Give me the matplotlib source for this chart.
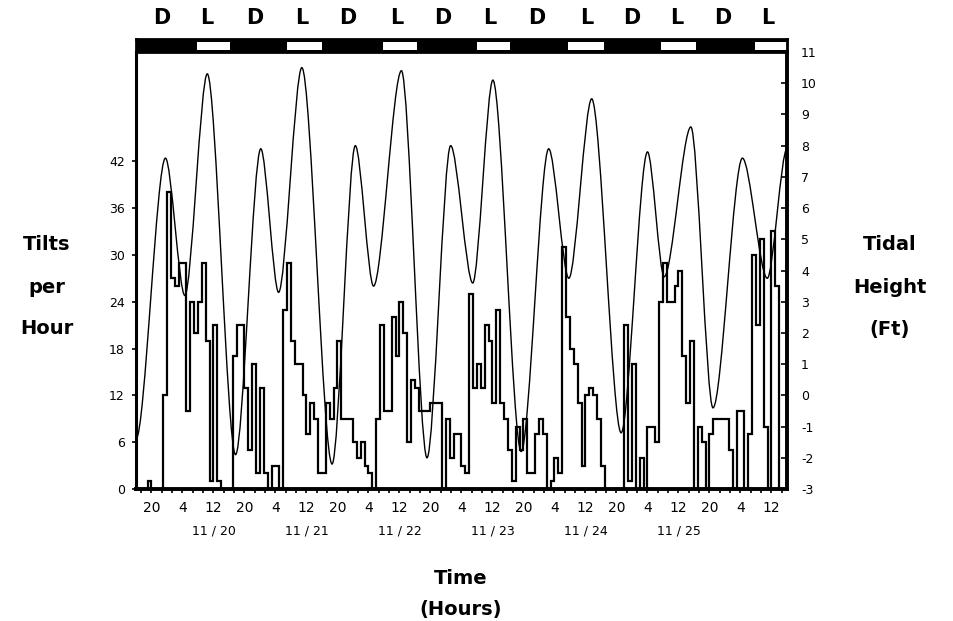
import numpy as np
import matplotlib
matplotlib.use("Agg")
import matplotlib.pyplot as plt
from matplotlib.path import Path
from matplotlib.patches import PathPatch, Rectangle
from matplotlib.ticker import FixedLocator

# hours are counted from 00:00 on 11/19; first bin starts at 16:00
first_hour = 16

# tilts per hour, one value per hour (24 per line)
tilts = [
    0, 0, 0, 1, 0, 0, 0, 12, 38, 27, 26, 29, 29, 10, 24, 20, 24, 29, 19, 1, 21, 1, 0, 0,
    0, 17, 21, 21, 13, 5, 16, 2, 13, 2, 0, 3, 3, 0, 23, 29, 19, 16, 16, 12, 7, 11, 9, 2,
    2, 11, 9, 13, 19, 9, 9, 9, 6, 4, 6, 3, 2, 0, 9, 21, 10, 10, 22, 17, 24, 20, 6, 14,
    13, 10, 10, 10, 11, 11, 11, 0, 9, 4, 7, 7, 3, 2, 25, 13, 16, 13, 21, 19, 11, 23, 11, 9,
    5, 1, 8, 5, 9, 2, 2, 7, 9, 7, 0, 1, 4, 2, 31, 22, 18, 16, 11, 3, 12, 13, 12, 9,
    3, 0, 0, 0, 0, 0, 21, 1, 16, 0, 4, 0, 8, 8, 6, 24, 29, 24, 24, 26, 28, 17, 11, 19,
    0, 8, 6, 0, 7, 9, 9, 9, 9, 5, 0, 10, 10, 0, 7, 30, 21, 32, 8, 0, 33, 26, 0, 0,
]

# tide turning points (hour, feet)
tide_time = [16.0, 23.6, 28.6, 34.4, 41.7, 48.2, 52.8, 58.8, 66.6, 72.6, 77.3, 84.5,
             91.1, 97.2, 102.9, 108.1, 115.4, 122.5, 127.7, 133.6, 141.2, 148.0,
             152.3, 159.2, 164.9, 172.5, 178.9, 184.0]
tide_ft = [-1.4, 7.6, 3.2, 10.3, -1.9, 7.9, 3.3, 10.5, -2.2, 8.0, 3.5, 10.4,
           -2.0, 8.0, 3.6, 10.1, -1.8, 7.9, 3.75, 9.5, -1.2, 7.8,
           3.8, 8.6, -0.4, 7.6, 3.75, 7.9]

# light periods
light_on = [31.75, 54.9, 79.7, 103.9, 127.6, 151.6, 175.8]
light_off = [40.25, 64.0, 88.45, 112.4, 136.9, 160.6, 184.0]

dl_letters = ['D', 'L'] * 7
dl_pos = [22.7, 34.3, 46.7, 58.8, 70.7, 83.3, 95.2, 107.3, 119.4, 132.3, 143.9, 155.5, 167.3, 179.0]

tick_hours = list(range(20, 181, 8))
tick_names = ['20', '4', '12'] * 7
date_pos = [36, 60, 84, 108, 132, 156]
date_names = ['11 / 20', '11 / 21', '11 / 22', '11 / 23', '11 / 24', '11 / 25']

W, H = 954, 621
fig = plt.figure(figsize=(W / 100, H / 100), dpi=100)
ax = fig.add_axes([136 / W, 1 - 489 / H, (787 - 136) / W, (489 - 52) / H])
ax.set_xlim(16, 184)
ax.set_ylim(0, 56)

edges = np.arange(first_hour, first_hour + len(tilts) + 1)
ax.stairs(tilts, edges, color='black', lw=1.6)

ax2 = ax.twinx()
ax2.set_ylim(-3, 11)
verts = [(tide_time[0], tide_ft[0])]
codes = [Path.MOVETO]
for i in range(len(tide_time) - 1):
    t0, h0 = tide_time[i], tide_ft[i]
    t1, h1 = tide_time[i + 1], tide_ft[i + 1]
    d = 0.3 * (t1 - t0)
    verts += [(t0 + d, h0), (t1 - d, h1), (t1, h1)]
    codes += [Path.CURVE4] * 3
ax2.add_patch(PathPatch(Path(verts, codes), fill=False, lw=1.0, ec='black'))

# spines
for a in (ax, ax2):
    a.spines['top'].set_visible(False)
ax.spines['left'].set_linewidth(2.2)
ax.spines['bottom'].set_linewidth(2.8)
ax2.spines['right'].set_linewidth(2.8)
ax2.spines['left'].set_visible(False)
ax2.spines['bottom'].set_visible(False)

# ticks
ax.set_yticks(range(0, 43, 6))
ax.tick_params(axis='y', direction='out', length=3, width=1.2, labelsize=9, pad=5)
ax2.set_yticks(range(-3, 12))
ax2.set_yticklabels([str(v) for v in range(-3, 12)])
ax2.tick_params(axis='y', direction='in', length=4, width=1.2, labelsize=9, pad=10)
ax.set_xticks(tick_hours)
ax.set_xticklabels(tick_names)
ax.xaxis.set_minor_locator(FixedLocator(np.arange(20 - 8 / 3, 185, 8 / 3)))
ax.tick_params(axis='x', which='both', direction='out', length=3, width=1.2, labelsize=10, pad=6)

for p, name in zip(date_pos, date_names):
    ax.text(p, -0.095, name, transform=ax.get_xaxis_transform(), ha='center', va='center', fontsize=9)

# light / dark bar
bar = fig.add_axes([136 / W, 1 - 52 / H, (787 - 136) / W, 13 / H])
bar.set_xlim(16, 184)
bar.set_ylim(0, 1)
bar.set_facecolor('black')
bar.set_xticks([])
bar.set_yticks([])
for s in bar.spines.values():
    s.set_linewidth(2)
for a, b in zip(light_on, light_off):
    bar.add_patch(Rectangle((a, 0.16), b - a, 0.62, fc='white', ec='none'))
for letter, p in zip(dl_letters, dl_pos):
    bar.text(p, 2.6, letter, ha='center', va='center', fontsize=15, fontweight='bold', clip_on=False)

# axis titles
bold = dict(ha='center', va='center', fontsize=14, fontweight='bold')
for txt, y in zip(['Tilts', 'per', 'Hour'], [245, 287, 329]):
    fig.text(47 / W, 1 - y / H, txt, **bold)
for txt, y in zip(['Tidal', 'Height', '(Ft)'], [245, 287, 329]):
    fig.text(890 / W, 1 - y / H, txt, **bold)
for txt, y in zip(['Time', '(Hours)'], [578, 610]):
    fig.text(461 / W, 1 - y / H, txt, **bold)

fig.savefig('out.png', dpi=100, facecolor='white')
